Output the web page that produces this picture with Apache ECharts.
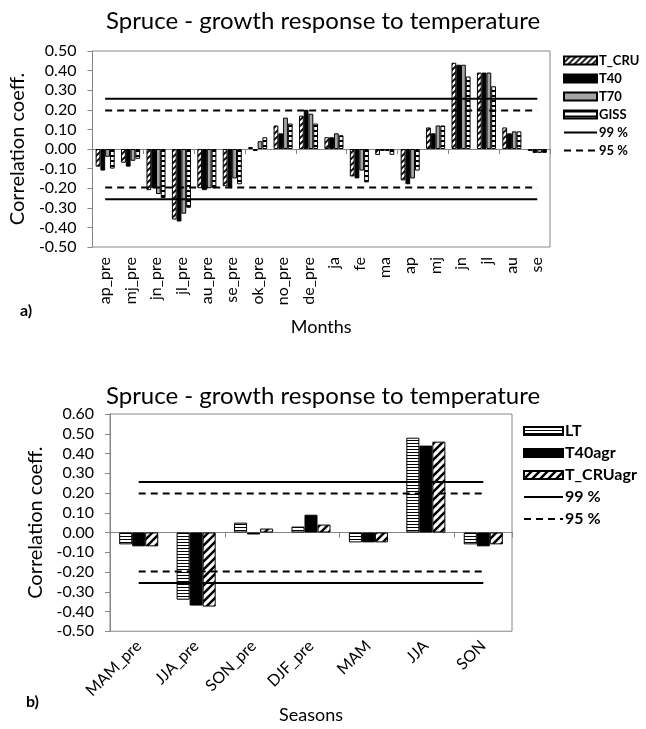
<!DOCTYPE html>
<html>
<head>
<meta charset="utf-8">
<script src="https://cdn.jsdelivr.net/npm/echarts@6/dist/echarts.min.js"></script>
<style>
  body { margin: 0; background: #fff; }
  #top { position: absolute; left: 0; top: 0; width: 646px; height: 365px; }
  #bottom { position: absolute; left: 0; top: 365px; width: 646px; height: 364px; }
</style>
</head>
<body>
<div id="top"></div>
<div id="bottom"></div>
<script>
// chart a) - months
var months = ['ap_pre','mj_pre','jn_pre','jl_pre','au_pre','se_pre','ok_pre','no_pre','de_pre','ja','fe','ma','ap','mj','jn','jl','au','se'];
var tCru = [-0.09,-0.07,-0.21,-0.36,-0.20,-0.19,0.01,0.12,0.17,0.06,-0.14,-0.03,-0.16,0.11,0.44,0.39,0.11,-0.01];
var t40 = [-0.11,-0.09,-0.20,-0.37,-0.21,-0.20,-0.01,0.08,0.20,0.06,-0.15,-0.01,-0.18,0.08,0.43,0.39,0.08,-0.02];
var t70 = [-0.04,-0.06,-0.23,-0.33,-0.20,-0.15,0.04,0.16,0.18,0.08,-0.11,-0.01,-0.15,0.12,0.43,0.39,0.09,-0.02];
var giss = [-0.10,-0.05,-0.25,-0.30,-0.20,-0.18,0.06,0.13,0.13,0.07,-0.17,-0.03,-0.11,0.12,0.37,0.32,0.09,-0.02];

// chart b) - seasons
var seasons = ['MAM_pre','JJA_pre','SON_pre','DJF_pre','MAM','JJA','SON'];
var lt = [-0.06,-0.34,0.05,0.03,-0.05,0.48,-0.06];
var t40agr = [-0.07,-0.37,-0.01,0.09,-0.05,0.44,-0.07];
var tCruAgr = [-0.07,-0.375,0.02,0.04,-0.05,0.46,-0.06];

// significance levels
var crit99 = 0.256;
var crit95 = 0.197;

var FONT = 'Lato';
var AXIS_GREY = '#868686';

function pattern(w, h, draw) {
    var c = document.createElement('canvas');
    c.width = w; c.height = h;
    var ctx = c.getContext('2d');
    ctx.fillStyle = '#fff';
    ctx.fillRect(0, 0, w, h);
    ctx.fillStyle = '#000';
    ctx.strokeStyle = '#000';
    draw(ctx, w, h);
    return { image: c, repeat: 'repeat' };
}
function diag(s, lw) {
    return pattern(s, s, function (ctx) {
        ctx.lineWidth = lw;
        ctx.beginPath();
        ctx.moveTo(-2, 2); ctx.lineTo(2, -2);
        ctx.moveTo(0, s); ctx.lineTo(s, 0);
        ctx.moveTo(s - 2, s + 2); ctx.lineTo(s + 2, s - 2);
        ctx.stroke();
    });
}
function hstripes(h, black) {
    return pattern(4, h, function (ctx, w) {
        ctx.fillRect(0, 0, w, black);
    });
}

function constLine(cats, v) {
    return cats.map(function () { return v; });
}

function barSeries(name, data, color, bw) {
    return {
        name: name, type: 'bar', data: data,
        barGap: '0%',
        itemStyle: { color: color, borderColor: '#000', borderWidth: bw }
    };
}
function sigSeries(name, cats, v, type) {
    return {
        name: name, type: 'line', data: constLine(cats, v),
        symbol: 'none', silent: true,
        itemStyle: { color: '#000', opacity: 0 },
        lineStyle: { color: '#000', width: 2, type: type, opacity: 1 }
    };
}
function sigPair(cats) {
    return [
        sigSeries('99 %', cats, crit99, 'solid'),
        sigSeries('95 %', cats, crit95, [7, 5]),
        sigSeries('99 %', cats, -crit99, 'solid'),
        sigSeries('95 %', cats, -crit95, [7, 5])
    ];
}

function buildOption(o) {
    return {
        animation: false,
        textStyle: { fontFamily: FONT, color: '#000' },
        title: {
            text: 'Spruce - growth response to temperature',
            left: 'center', top: o.titleTop,
            textStyle: { fontFamily: FONT, fontSize: 24, fontWeight: 'normal', color: '#000' }
        },
        legend: {
            orient: 'vertical', left: o.legendLeft, top: o.legendTop,
            itemWidth: o.legendW, itemHeight: 8, itemGap: o.legendGap,
            data: o.legendData.map(function (n) {
                return { name: n, icon: (n.indexOf('%') > 0 ? null : 'rect') };
            }),
            textStyle: { fontFamily: FONT, fontSize: o.legendFont, fontWeight: 'bold', color: '#000', padding: [0, 0, 0, -3] }
        },
        grid: {
            left: o.grid.left, top: o.grid.top, width: o.grid.width, height: o.grid.height,
            show: true, borderColor: AXIS_GREY, borderWidth: 1
        },
        graphic: [{
            type: 'text', left: o.tagX, top: o.tagY,
            style: { text: o.tag, font: 'bold 16px ' + FONT, fill: '#000' }
        }],
        xAxis: [{
            type: 'category', data: o.cats, position: 'bottom',
            axisLine: { onZero: true, lineStyle: { color: AXIS_GREY } },
            axisTick: { show: true, length: 5, lineStyle: { color: AXIS_GREY } },
            axisLabel: { show: false }
        }, {
            type: 'category', data: o.cats, position: 'bottom',
            axisLine: { show: false, onZero: false },
            axisTick: { show: false },
            axisLabel: { interval: 0, rotate: o.rotate, margin: o.labelMargin, fontSize: 16, fontFamily: FONT, color: '#000' },
            name: o.xName, nameLocation: 'middle', nameGap: o.xNameGap,
            nameTextStyle: { fontSize: 18, fontFamily: FONT, color: '#000' }
        }],
        yAxis: {
            type: 'value', min: -0.5, max: o.yMax, interval: 0.1,
            splitLine: { show: false },
            axisLine: { show: true, lineStyle: { color: AXIS_GREY } },
            axisTick: { show: true, length: 5, lineStyle: { color: AXIS_GREY } },
            axisLabel: {
                margin: 16, fontSize: 16, fontFamily: FONT, color: '#000',
                formatter: function (v) { return v.toFixed(2); }
            },
            name: 'Correlation coeff.', nameLocation: 'middle', nameGap: o.yNameGap,
            nameTextStyle: { fontSize: 20, fontFamily: FONT, color: '#000' }
        },
        series: o.series
    };
}

var topChart = echarts.init(document.getElementById('top'));
topChart.setOption(buildOption({
    titleTop: 4,
    cats: months,
    grid: { left: 87, top: 51, width: 463, height: 196 },
    yMax: 0.5,
    rotate: 90, labelMargin: 10,
    xName: 'Months', xNameGap: 71,
    yNameGap: 54,
    legendLeft: 558, legendTop: 49, legendW: 33, legendGap: 5, legendFont: 13,
    legendData: ['T_CRU', 'T40', 'T70', 'GISS', '99 %', '95 %'],
    tag: 'a)', tagX: 20, tagY: 303,
    series: [
        Object.assign(barSeries('T_CRU', tCru, diag(6, 1.8), 1), { barCategoryGap: '25%' }),
        barSeries('T40', t40, '#000', 1),
        barSeries('T70', t70, '#a5a5a5', 1),
        barSeries('GISS', giss, hstripes(5, 2), 1)
    ].concat(sigPair(months))
}));

var bottomChart = echarts.init(document.getElementById('bottom'));
bottomChart.setOption(buildOption({
    titleTop: 14,
    cats: seasons,
    grid: { left: 110, top: 49, width: 402, height: 223 },
    yMax: 0.6,
    rotate: 45, labelMargin: 12,
    xName: 'Seasons', xNameGap: 74,
    yNameGap: 54,
    legendLeft: 518, legendTop: 53, legendW: 39, legendGap: 6, legendFont: 16,
    legendData: ['LT', 'T40agr', 'T_CRUagr', '99 %', '95 %'],
    tag: 'b)', tagX: 26, tagY: 329,
    series: [
        Object.assign(barSeries('LT', lt, hstripes(3, 1), 1), { barCategoryGap: '32%' }),
        barSeries('T40agr', t40agr, '#000', 1),
        barSeries('T_CRUagr', tCruAgr, diag(8, 2.5), 1)
    ].concat(sigPair(seasons))
}));
</script>
</body>
</html>
